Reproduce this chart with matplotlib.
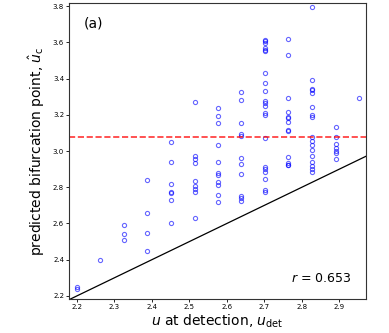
import matplotlib
matplotlib.use("Agg")
import matplotlib.pyplot as plt
import numpy as np

# Discrete u-at-detection values (columns) and predicted bifurcation points
u_det_levels = [2.200, 2.263, 2.325, 2.388, 2.451, 2.514, 2.576,
                2.639, 2.702, 2.764, 2.827, 2.890, 2.952]

uc_col0 = [2.25, 2.24]
uc_col1 = [2.40]
uc_col2 = [2.59, 2.54, 2.51]
uc_col3 = [2.84, 2.66, 2.55, 2.45]
uc_col4 = [3.05, 2.94, 2.82, 2.775, 2.77, 2.73, 2.60]
uc_col5 = [3.27, 2.97, 2.955, 2.935, 2.835, 2.805, 2.79, 2.775, 2.63]
uc_col6 = [3.24, 3.195, 3.155, 3.035, 2.94, 2.88, 2.87, 2.83, 2.815, 2.755, 2.72]
uc_col7 = [3.325, 3.28, 3.155, 3.095, 3.085, 2.96, 2.93, 2.875, 2.75, 2.74, 2.725]
uc_col8 = [3.615, 3.605, 3.595, 3.57, 3.56, 3.55, 3.43, 3.375, 3.33, 3.275,
           3.265, 3.25, 3.21, 3.20, 3.07, 2.91, 2.90, 2.885, 2.845, 2.785, 2.775]
uc_col9 = [3.62, 3.53, 3.295, 3.215, 3.19, 3.18, 3.16, 3.115, 3.11, 2.965,
           2.935, 2.925, 2.92]
uc_col10 = [3.795, 3.39, 3.345, 3.335, 3.32, 3.245, 3.20, 3.185, 3.08, 3.055,
            3.035, 3.005, 2.975, 2.94, 2.915, 2.90, 2.885]
uc_col11 = [3.135, 3.08, 3.04, 3.015, 3.0, 2.99, 2.955]
uc_col12 = [3.295]

uc_columns = [uc_col0, uc_col1, uc_col2, uc_col3, uc_col4, uc_col5, uc_col6,
              uc_col7, uc_col8, uc_col9, uc_col10, uc_col11, uc_col12]

true_bifurcation = 3.08
r_text = "$r$ = 0.653"
panel_label = "(a)"

x_ticks = [2.2, 2.3, 2.4, 2.5, 2.6, 2.7, 2.8, 2.9]
y_ticks = [2.2, 2.4, 2.6, 2.8, 3.0, 3.2, 3.4, 3.6, 3.8]

xs = []
ys = []
for u, col in zip(u_det_levels, uc_columns):
    xs.extend([u] * len(col))
    ys.extend(col)

fig = plt.figure(figsize=(3.89, 3.33), dpi=100)
ax = fig.add_axes([69/389, 1 - 299/333, (366 - 69)/389, (299 - 3)/333])

ax.plot(xs, ys, linestyle="none", marker="o", markersize=3.0,
        markerfacecolor="none", markeredgecolor="blue", markeredgewidth=0.8,
        alpha=0.6)

xlim = (2.179, 2.971)
ylim = (2.183, 3.817)
ax.plot([xlim[0], xlim[1]], [xlim[0], xlim[1]], color="black", lw=0.9)
ax.axhline(true_bifurcation, color="red", linestyle="--", lw=1.2, alpha=0.8)

ax.set_xlim(*xlim)
ax.set_ylim(*ylim)
ax.set_xticks(x_ticks)
ax.set_yticks(y_ticks)
ax.set_xticklabels([f"{t:.1f}" for t in x_ticks])
ax.set_yticklabels([f"{t:.1f}" for t in y_ticks])
ax.tick_params(labelsize=5, length=2, width=0.6, pad=1.5)
for s in ax.spines.values():
    s.set_linewidth(0.8)
    s.set_color("#333333")

ax.set_xlabel(r"$u$ at detection, $u_{\rm det}$", fontsize=10, labelpad=2)
ax.set_ylabel(r"predicted bifurcation point, $\hat{u}_{\rm c}$", fontsize=10, labelpad=4)

ax.text(0.05, 0.93, panel_label, transform=ax.transAxes, fontsize=10,
        ha="left", va="center")
ax.text(0.95, 0.07, r_text, transform=ax.transAxes, fontsize=9,
        ha="right", va="center")

fig.savefig("out.png", dpi=100)
